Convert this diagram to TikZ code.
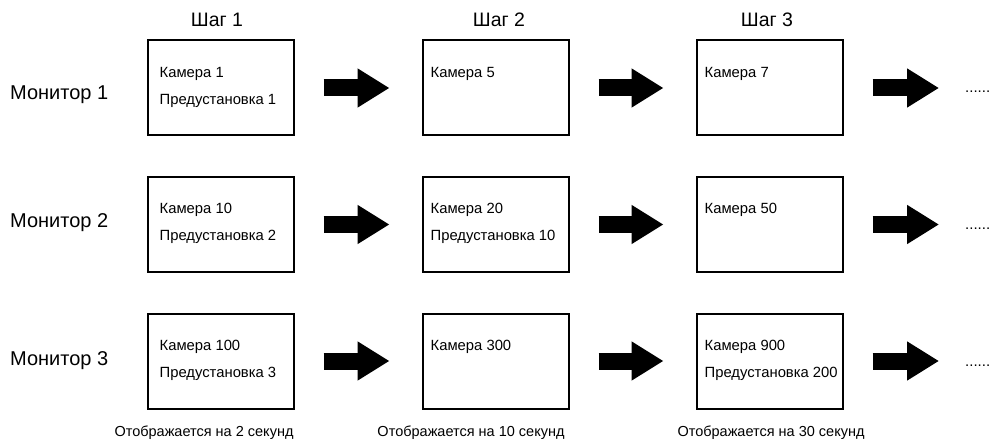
\documentclass[tikz,border=0pt]{standalone}
\usepackage{fontspec}
\setmainfont{Liberation Sans}
\usetikzlibrary{arrows.meta,calc}
\newcommand{\celllines}[1]{\begin{tabular}[t]{@{}l@{}}#1\end{tabular}}
\begin{document}
\begin{tikzpicture}[x=1pt,y=-1pt,
  screen/.style={draw=black, line width=2pt, minimum width=146pt, minimum height=95pt, inner sep=0pt},
  celltext/.style={anchor=base west, inner sep=0pt, font=\fontsize{14.8}{27}\selectfont},
  steplabel/.style={anchor=base, inner sep=0pt, font=\fontsize{19.5}{23}\selectfont},
  monlabel/.style={anchor=base west, inner sep=0pt, font=\fontsize{20}{24}\selectfont},
  timelabel/.style={anchor=base, inner sep=0pt, font=\fontsize{14.5}{17}\selectfont},
  dotslabel/.style={anchor=base west, inner sep=0pt, font=\fontsize{15}{17}\selectfont},
  blockarrow/.style={line width=17pt, -{Triangle[length=32pt,width=37pt]}}]
\useasboundingbox (0,0) rectangle (994,441);

% step labels
\node[steplabel] (s1) at (217,27) {Шаг 1};
\node[steplabel] (s2) at (499,27) {Шаг 2};
\node[steplabel] (s3) at (767,27) {Шаг 3};

% monitor labels
\node[monlabel] (m1) at (10,100) {Монитор 1};
\node[monlabel] (m2) at (10,228) {Монитор 2};
\node[monlabel] (m3) at (10,365) {Монитор 3};

% screens
\foreach \r/\y in {1/88, 2/224.5, 3/361}{
  \node[screen] (b\r1) at (220.5,\y) {};
  \node[screen] (b\r2) at (495.5,\y) {};
  \node[screen] (b\r3) at (769.5,\y) {};
  \node[dotslabel] (d\r) at (965,\y+5) {......};
}

% screen texts
\node[celltext] (t11) at ($(b11.north west)+(13,38)$) {\celllines{Камера 1\\Предустановка 1}};
\node[celltext] (t12) at ($(b12.north west)+(9,38)$) {\celllines{Камера 5}};
\node[celltext] (t13) at ($(b13.north west)+(9,38)$) {\celllines{Камера 7}};
\node[celltext] (t21) at ($(b21.north west)+(13,38)$) {\celllines{Камера 10\\Предустановка 2}};
\node[celltext] (t22) at ($(b22.north west)+(9,38)$) {\celllines{Камера 20\\Предустановка 10}};
\node[celltext] (t23) at ($(b23.north west)+(9,38)$) {\celllines{Камера 50}};
\node[celltext] (t31) at ($(b31.north west)+(13,38)$) {\celllines{Камера 100\\Предустановка 3}};
\node[celltext] (t32) at ($(b32.north west)+(9,38)$) {\celllines{Камера 300}};
\node[celltext] (t33) at ($(b33.north west)+(9,38)$) {\celllines{Камера 900\\Предустановка 200}};

% arrows
\foreach \r in {1,2,3}{
  \draw[blockarrow, shorten <=29pt, shorten >=32pt] (b\r1) -- (b\r2);
  \draw[blockarrow, shorten <=29pt, shorten >=32pt] (b\r2) -- (b\r3);
  \draw[blockarrow, shorten <=29pt, shorten >=26pt] (b\r3.east) -- (b\r3.east -| d\r.west);
}

% time labels
\node[timelabel] (l1) at (204,436) {Отображается на 2 секунд};
\node[timelabel] (l2) at (471,436) {Отображается на 10 секунд};
\node[timelabel] (l3) at (771,436) {Отображается на 30 секунд};
\end{tikzpicture}
\end{document}
